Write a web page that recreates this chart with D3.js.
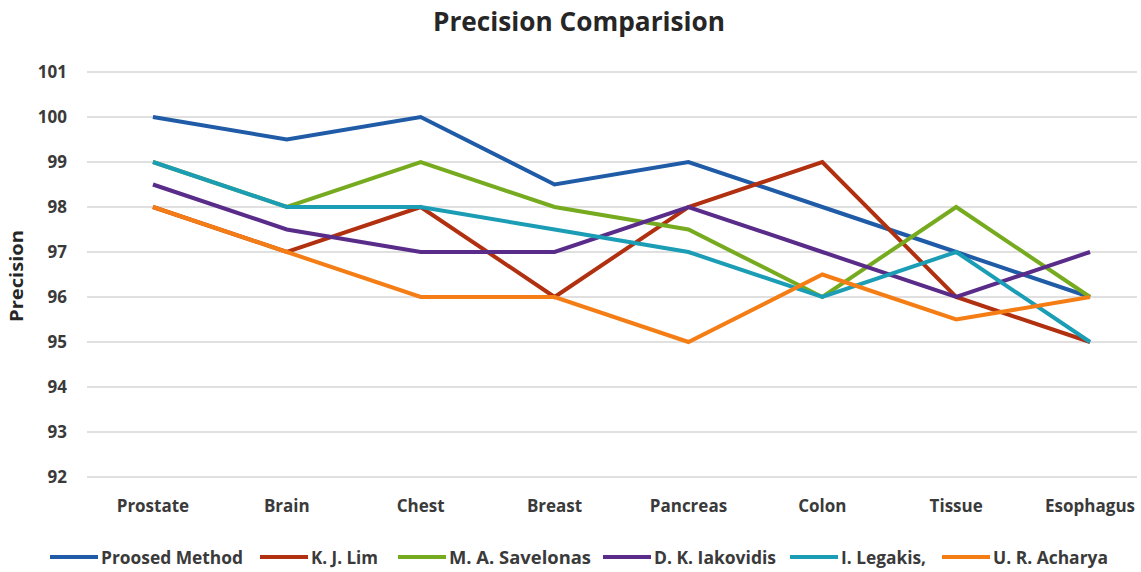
<!DOCTYPE html>
<html><head><meta charset="utf-8">
<script src="https://cdn.jsdelivr.net/npm/d3@7"></script>
<style>body{margin:0;background:#fff}svg{display:block}text{font-family:"Open Sans",sans-serif;font-weight:bold;fill:#3a3a3a}</style>
</head><body><svg id="c" width="1141" height="572"></svg>
<script>
const categories = ["Prostate","Brain","Chest","Breast","Pancreas","Colon","Tissue","Esophagus"];
const seriesNames = ["Proosed Method","K. J. Lim","M. A. Savelonas","D. K. Iakovidis","I. Legakis,","U. R. Acharya"];
const proposed  = [100, 99.5, 100, 98.5, 99, 98, 97, 96];
const lim       = [98, 97, 98, 96, 98, 99, 96, 95];
const savelonas = [99, 98, 99, 98, 97.5, 96, 98, 96];
const iakovidis = [98.5, 97.5, 97, 97, 98, 97, 96, 97];
const legakis   = [99, 98, 98, 97.5, 97, 96, 97, 95];
const acharya   = [98, 97, 96, 96, 95, 96.5, 95.5, 96];
const yTicks = [92,93,94,95,96,97,98,99,100,101];
const colors = ["#1f5ba6","#b0300f","#77ab1f","#5a2c8a","#1a9db5","#f47d15"];
const seriesVals = [proposed, lim, savelonas, iakovidis, legakis, acharya];

const svg = d3.select("#c");
const L = 87, R = 1137, T = 72, B = 477;
const x = d3.scaleBand().domain(categories).range([86, 1157]);
const y = d3.scaleLinear().domain([92,101]).range([B, T]);
const cx = d => x(d) + x.bandwidth()/2;

svg.append("text").attr("x", 579).attr("y", 31).attr("text-anchor","middle")
  .style("font-size","27px").style("fill","#262626")
  .attr("textLength",292).attr("lengthAdjust","spacingAndGlyphs").text("Precision Comparision");

svg.append("g").selectAll("line").data(yTicks).join("line")
  .attr("x1", L).attr("x2", R).attr("y1", d=>y(d)).attr("y2", d=>y(d))
  .attr("stroke","#d6d6d6").attr("stroke-width",1.5);

svg.append("g").selectAll("text").data(yTicks).join("text")
  .attr("x", 67).attr("y", d=>y(d)+6).attr("text-anchor","end")
  .style("font-size","17px").text(d=>d);

svg.append("g").selectAll("text").data(categories).join("text")
  .attr("x", cx).attr("y", 512).attr("text-anchor","middle")
  .style("font-size","17px").text(d=>d);

svg.append("text").attr("transform","translate(23,276) rotate(-90)").attr("text-anchor","middle")
  .style("font-size","17px").style("fill","#262626")
  .attr("textLength",92).attr("lengthAdjust","spacingAndGlyphs").text("Precision");

const line = d3.line().x((d,i)=>cx(categories[i])).y(d=>y(d));
svg.append("g").selectAll("path").data(seriesVals).join("path")
  .attr("d", d=>line(d)).attr("fill","none")
  .attr("stroke",(d,i)=>colors[i]).attr("stroke-width",4).attr("stroke-linejoin","miter");

// legend
const legX = [50, 260, 398, 603, 790, 942];
const legW = [142, 67, 142, 122, 85, 115];
const lg = svg.append("g").selectAll("g").data(seriesNames).join("g")
  .attr("transform",(d,i)=>`translate(${legX[i]},557)`);
lg.append("line").attr("x1",0).attr("x2",48).attr("y1",0).attr("y2",0)
  .attr("stroke",(d,i)=>colors[i]).attr("stroke-width",4);
lg.append("text").attr("x",51).attr("y",7).style("font-size","18px")
  .attr("textLength",(d,i)=>legW[i]).attr("lengthAdjust","spacingAndGlyphs").text(d=>d);
</script></body></html>
